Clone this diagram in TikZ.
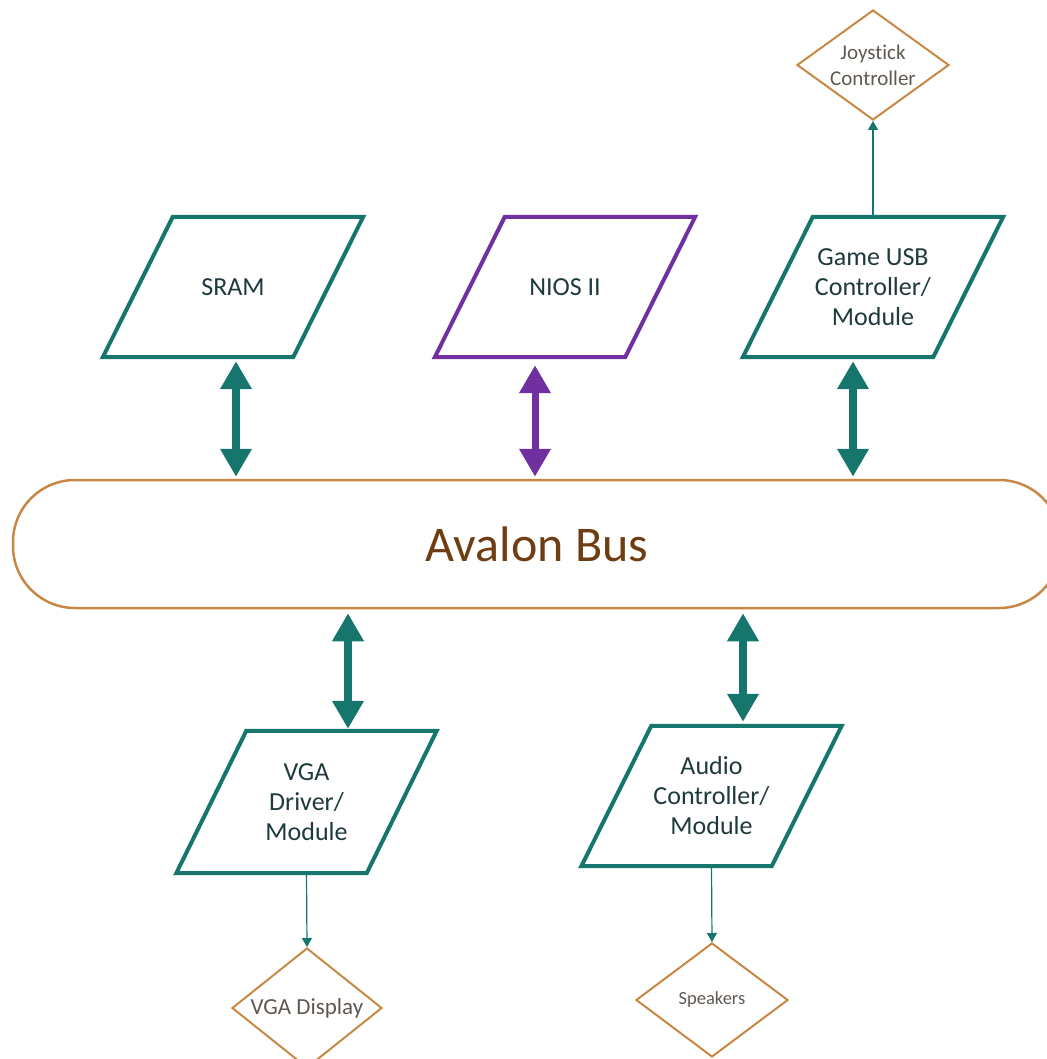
\documentclass[tikz,border=0pt]{standalone}
\usepackage{fontspec}
\setmainfont{Carlito}[Ligatures=CommonOff]
\usetikzlibrary{arrows.meta,shapes.geometric}
\definecolor{tealc}{RGB}{22,118,110}
\definecolor{purplec}{RGB}{112,48,160}
\definecolor{tanc}{RGB}{198,136,68}
\definecolor{boxtext}{RGB}{30,58,60}
\definecolor{dtext}{RGB}{95,88,80}
\definecolor{bustext}{RGB}{110,62,18}
\newcommand\parabox[2]{%
  \draw[#2] ([xshift=35pt]#1.north west) -- ([xshift=35pt]#1.north east)
    -- ([xshift=-35pt]#1.south east) -- ([xshift=-35pt]#1.south west) -- cycle;}
\begin{document}
\begin{tikzpicture}[x=1pt,y=-1pt,
  pbox/.style={rectangle,minimum width=190pt,inner sep=0pt,align=center,
    font=\fontsize{26}{30}\selectfont,text=boxtext},
  pline/.style={line width=4pt,line join=miter,draw=tealc},
  dia/.style={diamond,draw=tanc,line width=2pt,inner sep=0pt},
  dlabel/.style={align=center,text=dtext,inner sep=0pt},
  bigarrow/.style={line width=8pt,draw=tealc,
    {Triangle[width=30pt,length=28pt]}-{Triangle[width=30pt,length=28pt]}},
  thinarrow/.style={line width=1.2pt,draw=tealc,-{Triangle[width=10pt,length=9pt]}}]
\path[use as bounding box] (0,0) rectangle (1046,1059);

% bus
\node[rectangle,draw=tanc,line width=2.5pt,rounded corners=62pt,
  minimum width=1048pt,minimum height=128pt,inner sep=0pt,
  font=\fontsize{50}{60}\selectfont,text=bustext] (bus) at (537,544) {Avalon Bus};

% top boxes
\node[pbox,minimum height=140pt] (sram) at (233,287) {SRAM};
\node[pbox,minimum height=140pt] (nios) at (565,287) {NIOS II};
\node[pbox,minimum height=140pt] (usb) at (873,287) {Game USB\\Controller/\\Module};
\parabox{sram}{pline}
\parabox{nios}{pline,draw=purplec}
\parabox{usb}{pline}

% bottom boxes
\node[pbox,minimum height=142pt] (vga) at (306.5,802) {VGA\\Driver/\\Module};
\node[pbox,minimum height=140pt] (audio) at (711.5,796) {Audio\\Controller/\\Module};
\parabox{vga}{pline}
\parabox{audio}{pline}

% diamonds
\node[dia,minimum width=152pt,minimum height=110pt,
  label={[dlabel,font=\fontsize{21}{26}\selectfont]center:Joystick\\Controller}] (joy) at (873,65) {};
\node[dia,minimum width=150pt,minimum height=120pt,
  label={[dlabel,font=\fontsize{23}{28}\selectfont]center:VGA Display}] (vgad) at (307,1008) {};
\node[dia,minimum width=152pt,minimum height=114pt,
  label={[dlabel,font=\fontsize{18.5}{22}\selectfont]center:Speakers}] (spk) at (712,1000) {};

% thick arrows
\draw[bigarrow,shorten <=4pt,shorten >=2pt] ([xshift=3pt]sram.south) -- ([xshift=3pt]sram.south |- bus.north);
\draw[bigarrow,line width=7pt,draw=purplec,shorten <=8pt,shorten >=2pt] ([xshift=-30pt]nios.south) -- ([xshift=-30pt]nios.south |- bus.north);
\draw[bigarrow,shorten <=4pt,shorten >=2pt] ([xshift=-20pt]usb.south) -- ([xshift=-20pt]usb.south |- bus.north);
\draw[bigarrow,shorten <=4pt,shorten >=2pt] ([xshift=41.5pt]vga.north |- bus.south) -- ([xshift=41.5pt]vga.north);
\draw[bigarrow,shorten <=4pt,shorten >=4pt] ([xshift=31.5pt]audio.north |- bus.south) -- ([xshift=31.5pt]audio.north);

% thin arrows
\draw[thinarrow,shorten <=2pt] (usb.north) -- (joy.south);
\draw[thinarrow,shorten <=2pt] (vga.south) -- (vgad.north);
\draw[thinarrow,shorten <=2pt] (audio.south) -- (spk.north);
\end{tikzpicture}
\end{document}
